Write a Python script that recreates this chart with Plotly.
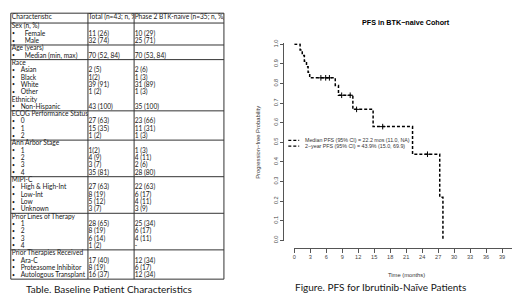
import numpy as np
import plotly.graph_objects as go

W, H = 520, 294

# ---------------- Kaplan-Meier data ----------------
event_times = [0, 1.1, 1.5, 1.9, 2.3, 2.6, 2.9, 7.7, 8.3, 11.0, 14.8, 22.2, 27.3, 27.9]
surv_prob = [1.0, 0.971, 0.943, 0.914, 0.886, 0.857, 0.829, 0.79, 0.74, 0.668, 0.58, 0.439, 0.22, 0.0]
censor_times = [5.0, 5.9, 6.6, 8.9, 10.5, 11.7, 16.6, 25.0]
x_tick_vals = [0, 3, 6, 9, 12, 15, 18, 21, 24, 27, 30, 33, 36, 39, 42]
y_tick_vals = [0.0, 0.1, 0.2, 0.3, 0.4, 0.5, 0.6, 0.7, 0.8, 0.9, 1.0]
legend_lines = ["Median PFS (95% CI) = 22.2 mos (11.0, NA)",
                "2\u2212year PFS (95% CI) = 43.9% (15.0, 69.9)"]

# ---------------- Table data ----------------
header = ["Characteristic", "Total (n=43; n, %)", "Phase 2 BTK-naive (n=35; n, %)"]
sections = ["Sex (n, %)", "Age (years)", "Race", "Ethnicity", "ECOG Performance Status",
            "Ann Arbor Stage", "MIPI-C", "Prior Lines of Therapy", "Prior Therapies Received"]
sex_items = ["Female", "Male"]
sex_total = ["11 (26)", "32 (74)"]
sex_p2 = ["10 (29)", "25 (71)"]
age_items = ["Median (min, max)"]
age_total = ["70 (52, 84)"]
age_p2 = ["70 (53, 84)"]
race_items = ["Asian", "Black", "White", "Other"]
race_total = ["2 (5)", "1(2)", "39 (91)", "1 (2)"]
race_p2 = ["2 (6)", "1 (3)", "31 (89)", "1 (3)"]
eth_items = ["Non-Hispanic"]
eth_total = ["43 (100)"]
eth_p2 = ["35 (100)"]
ecog_items = ["0", "1", "2"]
ecog_total = ["27 (63)", "15 (35)", "1 (2)"]
ecog_p2 = ["23 (66)", "11 (31)", "1 (3)"]
stage_items = ["1", "2", "3", "4"]
stage_total = ["1(2)", "4 (9)", "3 (7)", "35 (81)"]
stage_p2 = ["1 (3)", "4 (11)", "2 (6)", "28 (80)"]
mipi_items = ["High & High-Int", "Low-Int", "Low", "Unknown"]
mipi_total = ["27 (63)", "8 (19)", "5 (12)", "3 (7)"]
mipi_p2 = ["22 (63)", "6 (17)", "4 (11)", "3 (9)"]
lines_items = ["1", "2", "3", "4"]
lines_total = ["28 (65)", "8 (19)", "6 (14)", "1 (2)"]
lines_p2 = ["25 (34)", "6 (17)", "4 (11)", "-"]
ther_items = ["Ara-C", "Proteasome Inhibitor", "Autologous Transplant"]
ther_total = ["17 (40)", "8 (19)", "16 (37)"]
ther_p2 = ["12 (34)", "6 (17)", "12 (34)"]

groups = [(sex_items, sex_total, sex_p2), (age_items, age_total, age_p2),
          (race_items, race_total, race_p2), (eth_items, eth_total, eth_p2),
          (ecog_items, ecog_total, ecog_p2), (stage_items, stage_total, stage_p2),
          (mipi_items, mipi_total, mipi_p2), (lines_items, lines_total, lines_p2),
          (ther_items, ther_total, ther_p2)]

# ---------------- helpers ----------------
def px(x):
    return x / W

def py(y):
    return 1 - y / H

FONT = "Liberation Sans, Arial, sans-serif"
TFONT = "Lato, Liberation Sans, sans-serif"
INK = "#161616"
GRID = "#333333"

fig = go.Figure()

# ---------------- KM curve ----------------
fig.add_trace(go.Scatter(
    x=event_times, y=surv_prob, mode="lines", line=dict(shape="hv", color="black", width=1.5, dash="3px,2px"),
    xaxis="x", yaxis="y", showlegend=False, hoverinfo="skip"))
cidx = np.searchsorted(event_times, censor_times, side="right") - 1
censor_surv = [surv_prob[i] for i in cidx]
fig.add_trace(go.Scatter(
    x=censor_times, y=censor_surv, mode="markers",
    marker=dict(symbol="cross-thin", size=4, line=dict(color="black", width=1)),
    xaxis="x", yaxis="y", showlegend=False, hoverinfo="skip", cliponaxis=False))

# ---------------- Table text ----------------
col1, col2, col3, kinds = [header[0]], [header[1]], [header[2]], ["head"]
section_rows = []
for sec, (items, tot, p2) in zip(sections, groups):
    section_rows.append(len(col1))
    col1.append(sec); col2.append(""); col3.append(""); kinds.append("sec")
    for it, a, b in zip(items, tot, p2):
        col1.append(it); col2.append(a); col3.append(b); kinds.append("item")

n_rows = len(col1)
ROW0, ROWH = 7.53, 7.47           # pixel of row 0 centre and row pitch
ypos = [(-0.34 if k == "head" else float(i)) for i, k in enumerate(kinds)]
deep = {"Female", "Male", "Median (min, max)"}
xpad1 = [(14.0 if (k == "item" and t in deep) else (10.0 if k == "item" else 1.0)) for t, k in zip(col1, kinds)]

col_edges = [0.8, 78.7, 125.3, 216.0]
tbl_range = [(H - ROW0) / ROWH, (0 - ROW0) / ROWH]

tf = dict(family=TFONT, size=6.6, color=INK)
fig.add_trace(go.Scatter(x=xpad1, y=ypos, text=col1, mode="text", textposition="middle right",
                         textfont=tf, xaxis="x2", yaxis="y2", showlegend=False, hoverinfo="skip"))
bul_y = [ypos[i] for i, k in enumerate(kinds) if k == "item"]
fig.add_trace(go.Scatter(x=[1.2] * len(bul_y), y=bul_y, text=["\u2022"] * len(bul_y), mode="text",
                         textposition="middle right", textfont=dict(family=TFONT, size=5, color=INK),
                         xaxis="x2", yaxis="y2", showlegend=False, hoverinfo="skip"))
fig.add_trace(go.Scatter(x=[0.6] * n_rows, y=ypos, text=col2, mode="text", textposition="middle right",
                         textfont=tf, xaxis="x3", yaxis="y3", showlegend=False, hoverinfo="skip"))
fig.add_trace(go.Scatter(x=[0.6] * n_rows, y=ypos, text=col3, mode="text", textposition="middle right",
                         textfont=tf, xaxis="x4", yaxis="y4", showlegend=False, hoverinfo="skip"))

shapes = []
# horizontal rules
rule_rows = [r for r, s in zip(section_rows, sections) if s != "Ethnicity"]
for r in rule_rows:
    shapes.append(dict(type="line", xref="paper", yref="y2", x0=px(col_edges[0]), x1=px(col_edges[-1]),
                       y0=r - 0.5, y1=r - 0.5, line=dict(color=GRID, width=1)))
bottom = n_rows - 0.5
shapes.append(dict(type="line", xref="paper", yref="y2", x0=px(col_edges[0]), x1=px(col_edges[-1]),
                   y0=bottom, y1=bottom, line=dict(color=GRID, width=1)))
top = (1.2 - ROW0) / ROWH
shapes.append(dict(type="line", xref="paper", yref="y2", x0=px(col_edges[0]), x1=px(col_edges[-1]),
                   y0=top, y1=top, line=dict(color=GRID, width=1)))
for xe in col_edges:
    shapes.append(dict(type="line", xref="paper", yref="y2", x0=px(xe), x1=px(xe),
                       y0=top, y1=bottom, line=dict(color=GRID, width=1)))

# legend samples
for yy in (131, 137):
    shapes.append(dict(type="line", xref="paper", yref="paper", x0=px(281), x1=px(292), y0=py(yy), y1=py(yy),
                       line=dict(color="black", width=1.3, dash="3px,2px")))

annotations = [
    dict(text="<b>PFS in BTK\u2212naive Cohort</b>", x=px(400), y=py(10.5), xref="paper", yref="paper",
         showarrow=False, font=dict(family=FONT, size=7.2, color="black"), xanchor="center", yanchor="middle"),
    dict(text="Progression\u2212free Probability", x=px(251), y=py(133), xref="paper", yref="paper",
         showarrow=False, textangle=-90, font=dict(family=FONT, size=5.8, color="#333"),
         xanchor="center", yanchor="middle"),
    dict(text="Time (months)", x=px(400), y=py(268), xref="paper", yref="paper",
         showarrow=False, font=dict(family=FONT, size=5.8, color="#333"), xanchor="center", yanchor="middle"),
    dict(text="Table. Baseline Patient Characteristics", x=px(100), y=py(283), xref="paper", yref="paper",
         showarrow=False, font=dict(family=TFONT, size=10, color=INK), xanchor="center", yanchor="middle"),
    dict(text="Figure. PFS for Ibrutinib-Na\u00efve Patients", x=px(374), y=py(281), xref="paper", yref="paper",
         showarrow=False, font=dict(family=TFONT, size=10, color=INK), xanchor="center", yanchor="middle"),
]
for i, (txt, yy) in enumerate(zip(legend_lines, (131, 137))):
    annotations.append(dict(text=txt, x=px(295.5), y=py(yy), xref="paper", yref="paper", showarrow=False,
                            font=dict(family=FONT, size=5.3, color="#333"), xanchor="left", yanchor="middle"))

hidden = dict(visible=False, showgrid=False, zeroline=False, fixedrange=True)
fig.update_layout(
    width=W, height=H, margin=dict(l=0, r=0, t=0, b=0),
    paper_bgcolor="white", plot_bgcolor="white", showlegend=False,
    xaxis=dict(domain=[px(287), px(513)], range=[0, 42], tickvals=x_tick_vals,
               ticks="outside", ticklen=3.5, tickwidth=1, tickcolor="#555", showline=True,
               linecolor="#555", linewidth=1, anchor="free", position=py(241), showgrid=False,
               zeroline=False, ticklabeloverflow="allow",
               tickfont=dict(family=FONT, size=5.6, color="#444")),
    yaxis=dict(domain=[py(234), py(32)], range=[-0.005, 1.005], tickvals=y_tick_vals,
               ticktext=["%.1f" % v for v in y_tick_vals], tickangle=-90,
               ticks="outside", ticklen=3.5, tickwidth=1, tickcolor="#555", showline=True,
               linecolor="#555", linewidth=1, anchor="free", position=px(276), showgrid=False,
               zeroline=False, ticklabeloverflow="allow",
               tickfont=dict(family=FONT, size=5.6, color="#444")),
    xaxis2=dict(domain=[px(col_edges[0]), px(col_edges[1])], range=[0, col_edges[1] - col_edges[0]], anchor="y2", **hidden),
    yaxis2=dict(domain=[0, 1], range=tbl_range, anchor="x2", **hidden),
    xaxis3=dict(domain=[px(col_edges[1]), px(col_edges[2])], range=[0, col_edges[2] - col_edges[1]], anchor="y3", **hidden),
    yaxis3=dict(domain=[0, 1], range=tbl_range, anchor="x3", **hidden),
    xaxis4=dict(domain=[px(col_edges[2]), px(col_edges[3])], range=[0, col_edges[3] - col_edges[2]], anchor="y4", **hidden),
    yaxis4=dict(domain=[0, 1], range=tbl_range, anchor="x4", **hidden),
    shapes=shapes, annotations=annotations,
)

fig.write_html("out.html")
